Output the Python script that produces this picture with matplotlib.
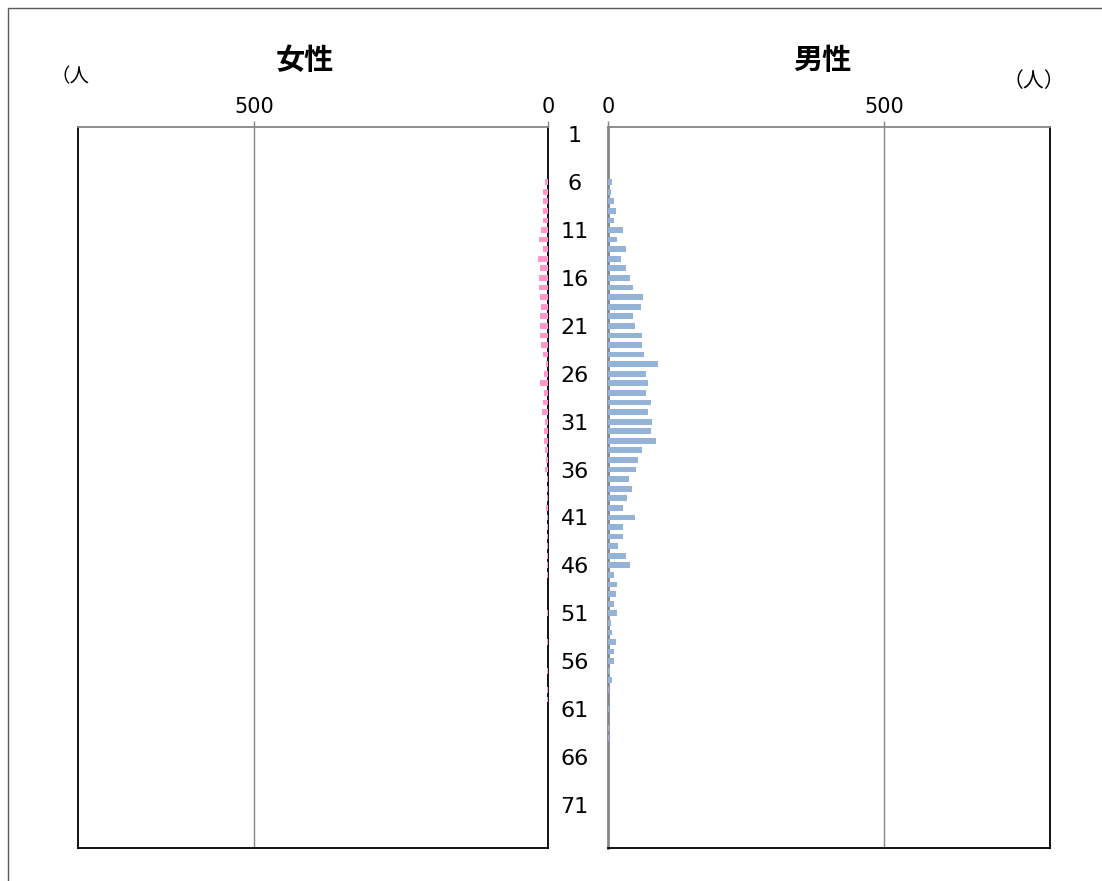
import numpy as np
import matplotlib.pyplot as plt
from matplotlib.patches import Rectangle

plt.rcParams['font.family'] = ['Noto Sans CJK JP', 'DejaVu Sans']

# data (age 1..75)
ages = np.arange(1, 76)
male = [0, 0, 0, 0, 0,
        8, 5, 10, 14, 10, 28, 17, 33, 24, 32,
        39, 46, 64, 59, 46, 49, 61, 61, 66, 90,
        68, 73, 69, 77, 73, 79, 77, 86, 61, 55,
        51, 38, 43, 34, 27, 48, 27, 28, 19, 32,
        39, 10, 16, 14, 10, 17, 5, 8, 14, 10,
        10, 4, 7, 2, 0, 1, 0, 2, 1, 0,
        0, 0, 0, 0, 0, 0, 0, 0, 0, 0]
female = [0, 0, 0, 0, 0,
          5, 9, 9, 8, 9, 12, 15, 8, 17, 13,
          16, 15, 14, 12, 13, 14, 13, 12, 9, 3,
          6, 14, 7, 9, 11, 5, 7, 7, 5, 3,
          5, 2, 2, 2, 3, 2, 2, 1, 1, 1,
          2, 1, 0, 0, 0, 1, 0, 0, 1, 0,
          0, 1, 0, 1, 1, 0, 0, 0, 0, 0,
          0, 0, 0, 0, 0, 0, 0, 0, 0, 0]
age_labels = np.arange(1, 72, 5)
xticks = [0, 500]

W, H = 1102, 881
fig = plt.figure(figsize=(W / 100, H / 100), dpi=100)

# outer frame
fig.patches.append(Rectangle((8 / W, -0.1), 1.2, 1.1 - 8 / H, transform=fig.transFigure,
                             fill=False, edgecolor='#595959', lw=1))

grey = '#868686'
numfont = dict(family='DejaVu Sans')


def ax_rect(x0, x1, y0=127, y1=848):
    return [x0 / W, 1 - y1 / H, (x1 - x0) / W, (y1 - y0) / H]


axf = fig.add_axes(ax_rect(78, 548))
axm = fig.add_axes(ax_rect(608, 1050))

axf.barh(ages, female, height=0.6, color='#FF99CC', zorder=3)
axm.barh(ages, male, height=0.6, color='#95B3D7', zorder=3)

axf.set_xlim(800, 0)
axm.set_xlim(0, 800)
for ax in (axf, axm):
    ax.set_ylim(75.5, 0.25)
    ax.xaxis.tick_top()
    ax.set_xticks(xticks)
    ax.set_xticklabels([str(v) for v in xticks], fontdict=numfont)
    ax.tick_params(axis='x', length=4, width=1, color=grey, pad=3, labelsize=15)
    ax.axvline(500, color=grey, lw=1, zorder=1)
    for s in ax.spines.values():
        s.set_linewidth(1.3)
        s.set_color('black')
    ax.spines['top'].set_color(grey)

axm.spines['left'].set_color(grey)
axm.spines['left'].set_linewidth(2)
axf.set_yticks([])
axm.set_yticks(age_labels)
axm.set_yticklabels([str(a) for a in age_labels], fontdict=numfont)
axm.tick_params(axis='y', length=0, pad=24, labelsize=16)
for t in axm.get_yticklabels():
    t.set_horizontalalignment('center')

fig.text(305 / W, 1 - 60 / H, '女性', ha='center', va='center', fontsize=21, fontweight='bold')
fig.text(822 / W, 1 - 60 / H, '男性', ha='center', va='center', fontsize=21, fontweight='bold')
fig.text(50 / W, 1 - 77 / H, '（人', ha='left', va='center', fontsize=14)
fig.text(1034 / W, 1 - 81 / H, '（人）', ha='center', va='center', fontsize=15)

fig.savefig('out.png', dpi=100)
